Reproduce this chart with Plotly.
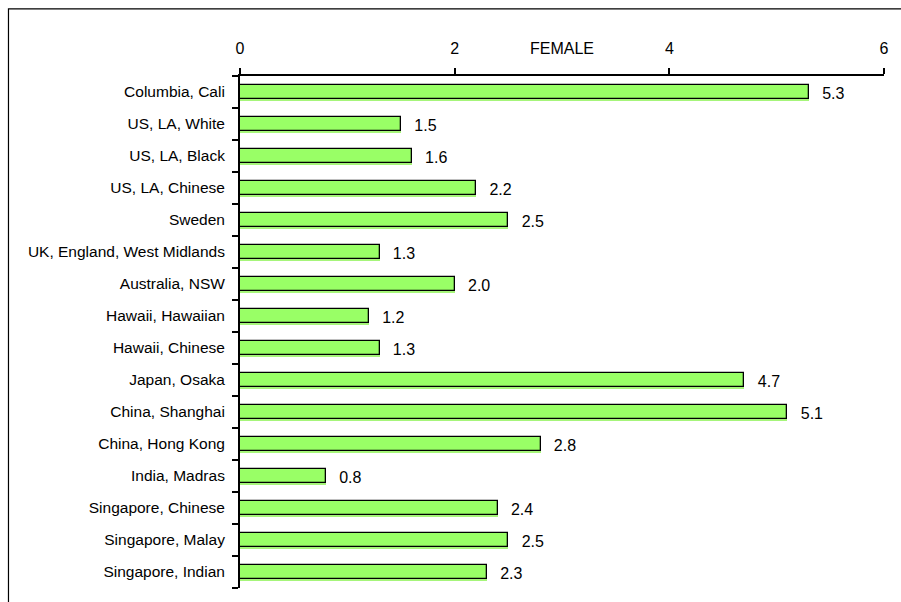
import plotly.graph_objects as go

categories = ["Columbia, Cali", "US, LA, White", "US, LA, Black", "US, LA, Chinese", "Sweden",
              "UK, England, West Midlands", "Australia, NSW", "Hawaii, Hawaiian", "Hawaii, Chinese",
              "Japan, Osaka", "China, Shanghai", "China, Hong Kong", "India, Madras",
              "Singapore, Chinese", "Singapore, Malay", "Singapore, Indian"]
values = [5.3, 1.5, 1.6, 2.2, 2.5, 1.3, 2.0, 1.2, 1.3, 4.7, 5.1, 2.8, 0.8, 2.4, 2.5, 2.3]
axis_title = "FEMALE"

pos = list(range(len(categories)))
font = "Arial, Liberation Sans, sans-serif"
green = "#99ff66"

fig = go.Figure()
# soft shadow under each bar
fig.add_trace(go.Bar(x=values, y=[p + 0.07 for p in pos], orientation="h", width=0.44,
                     marker=dict(color="#a6f57a", line=dict(width=0)), hoverinfo="skip",
                     showlegend=False))
fig.add_trace(go.Bar(x=values, y=pos, orientation="h", width=0.44,
                     marker=dict(color=green, line=dict(color="black", width=1.3)),
                     showlegend=False))
fig.add_trace(go.Scatter(x=values, y=[p + 0.1 for p in pos], mode="text",
                         text=["   " + f"{v:.1f}" for v in values], textposition="middle right",
                         textfont=dict(family=font, size=16, color="black"),
                         showlegend=False, hoverinfo="skip", cliponaxis=False))

fig.update_layout(
    width=901, height=602,
    margin=dict(l=240, r=17, t=76, b=14),
    paper_bgcolor="white", plot_bgcolor="white",
    bargap=0, barmode="overlay",
    font=dict(family=font, color="black"),
    xaxis=dict(side="top", range=[0, 6], dtick=2, tickformat="d", showgrid=False, zeroline=False,
               showline=True, linecolor="black", linewidth=2, ticks="outside", ticklen=6,
               tickwidth=2, tickcolor="black", tickfont=dict(size=16), ticklabelstandoff=8),
    yaxis=dict(range=[15.5, -0.5], tickvals=pos, ticktext=categories, showgrid=False,
               zeroline=False, showline=True, linecolor="black", linewidth=2, ticks="",
               tickfont=dict(size=15.5), ticklabelstandoff=10,
               minor=dict(tickvals=[p - 0.5 for p in pos] + [len(pos) - 0.5], ticks="outside",
                          ticklen=6, tickwidth=2, tickcolor="black", showgrid=False)),
    annotations=[dict(text=axis_title, x=3, xref="x", y=1.0, yref="paper", yshift=28,
                      yanchor="middle", showarrow=False, font=dict(size=16, family=font))],
    shapes=[dict(type="rect", xref="paper", yref="paper", x0=-0.3595, x1=2, y0=-1, y1=1.131,
                 line=dict(color="black", width=1.2), fillcolor="rgba(0,0,0,0)", layer="below")],
)

fig.write_html("out.html", config={"displayModeBar": False},
               post_script="document.body.style.margin='0';document.body.style.overflow='hidden';")
